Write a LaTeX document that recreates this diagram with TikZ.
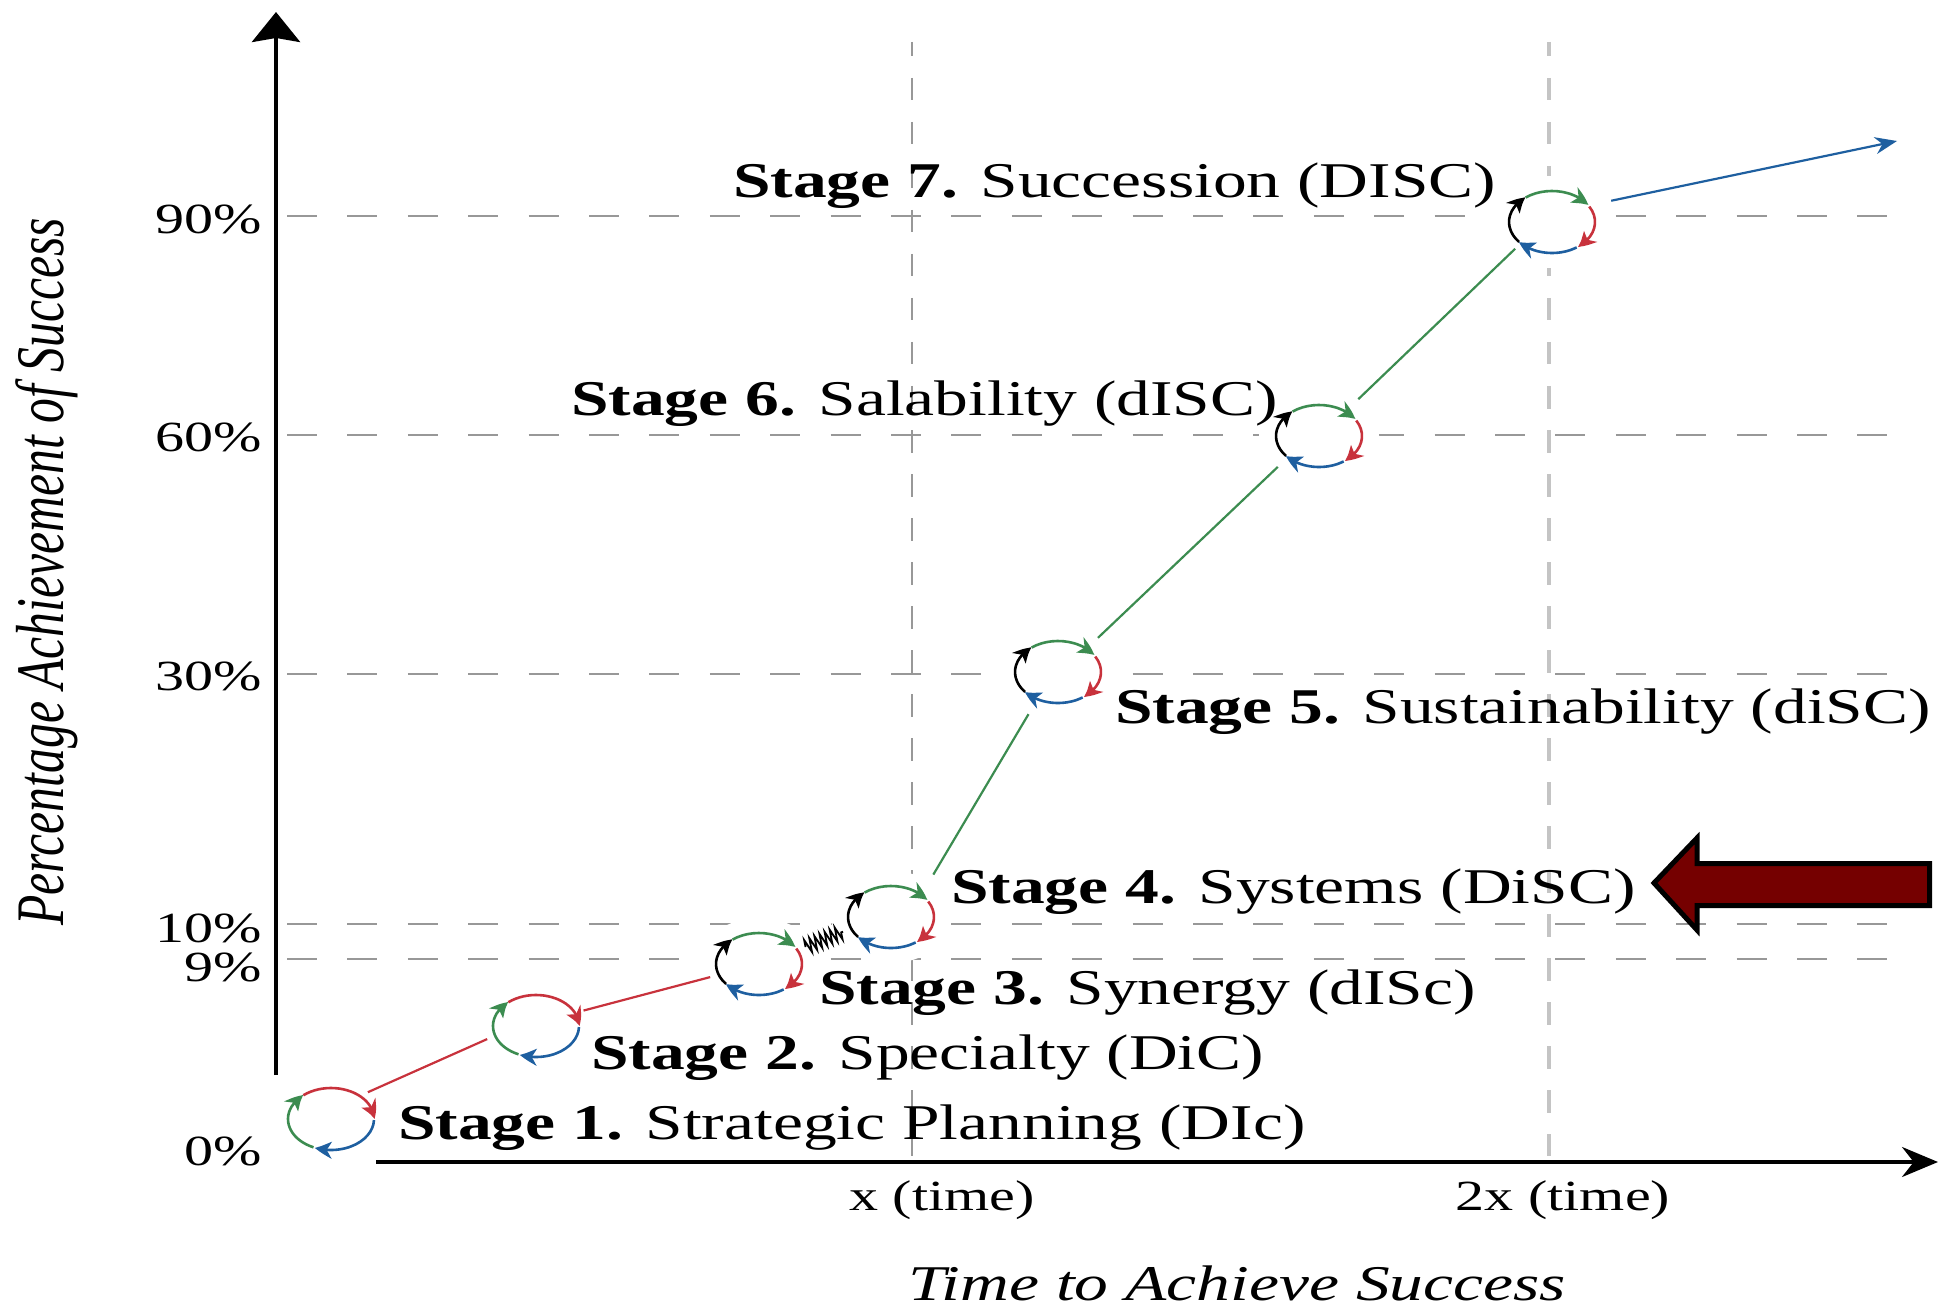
\documentclass[tikz,border=0pt]{standalone}
\usepackage{fontspec}
\setmainfont{Liberation Serif}[FakeStretch=1.35]
\newfontfamily\sidefont{Liberation Serif}[FakeStretch=0.73]
\usetikzlibrary{arrows.meta,bending,shapes.geometric,decorations.pathmorphing}
\definecolor{cycred}{HTML}{C8323C}
\definecolor{cycgreen}{HTML}{3C8C50}
\definecolor{cycblue}{HTML}{1E5FA0}
\definecolor{markred}{HTML}{750000}
\definecolor{guidegray}{HTML}{989898}
\definecolor{guidelight}{HTML}{C4C4C4}
\tikzset{
  cyc/.style={line width=2.6pt,-{Stealth[length=17pt,width=17pt,inset=5pt,bend]}},
}
\newcommand{\cycarc}[4]{\draw [cyc,#2] (#1.center) ++(#3:43pt and 31pt)
    arc [start angle=#3,end angle=#4,x radius=43pt,y radius=31pt];}
\newcommand{\threecyc}[1]{
    \cycarc{#1}{cycred}{130}{0}
    \cycarc{#1}{cycblue}{-2}{-112}
    \cycarc{#1}{cycgreen}{-114}{-230}
}
\newcommand{\fourcyc}[1]{
    \cycarc{#1}{black}{-140}{-232}
    \cycarc{#1}{cycgreen}{128}{33}
    \cycarc{#1}{cycred}{30}{-53}
    \cycarc{#1}{cycblue}{-55}{-140}
}
\begin{document}
\begin{tikzpicture}[x=1pt,y=-1pt]
\useasboundingbox (0,0) rectangle (1938,1305);
% guides
\begin{scope}[guidegray,line width=2pt,dash pattern=on 30pt off 30.4pt]
    \draw (287,216) -- (1888,216);
    \draw (287,435) -- (1888,435);
    \draw (287,674) -- (1888,674);
    \draw (287,924) -- (1888,924);
    \draw (287,959) -- (1888,959);
\end{scope}
\begin{scope}[dash pattern=on 22.5pt off 21.5pt,dash phase=8pt]
    \draw [guidegray,line width=2pt] (912,42) -- (912,1156);
    \draw [guidelight,line width=3.5pt] (1549,42) -- (1549,1156);
\end{scope}
% axes
\coordinate (O1) at (276,1075);
\coordinate (Y) at (276,12);
\coordinate (O2) at (376,1162);
\coordinate (X) at (1938,1162);
\coordinate (E) at (1897,141);
\draw [line width=4.5pt,-{Stealth[length=30pt,width=48pt,inset=4pt]}] (O1) -- (Y);
\draw [line width=3.5pt,-{Stealth[length=36pt,width=30pt]}] (O2) -- (X);
% ticks
\begin{scope}[every node/.style={anchor=east,font=\fontsize{43}{43}\selectfont}]
    \node (t90) at (265,219) {90\%};
    \node (t60) at (265,437) {60\%};
    \node (t30) at (265,676) {30\%};
    \node (t10) at (265,928) {10\%};
    \node (t9) at (265,967) {9\%};
    \node (t0) at (265,1151) {0\%};
\end{scope}
\begin{scope}[every node/.style={font=\fontsize{43}{43}\selectfont}]
    \node (x1) at (942,1200) {x (time)};
    \node (x2) at (1563,1200) {2x (time)};
\end{scope}
\node (xlabel) [anchor=base,inner sep=0pt] at (1237,1300) {\fontsize{50}{50}\selectfont\itshape Time to Achieve Success};
\node (ylabel) [rotate=90,anchor=base,inner sep=0pt] at (63,572) {\fontsize{68}{68}\sidefont\itshape Percentage Achievement of Success};
% stages
\begin{scope}[every node/.style={ellipse,draw=white,line width=16pt,fill=white,outer sep=0pt,minimum width=104pt,minimum height=76pt,inner sep=0pt}]
    \node (S1) at (331,1119) {};
    \node (S2) at (536,1026) {};
    \node (S3) at (759,964) {};
    \node (S4) at (891,917) {};
    \node (S5) at (1058,672) {};
    \node (S6) at (1319,436) {};
    \node (S7) at (1552,222) {};
\end{scope}
\threecyc{S1}
\threecyc{S2}
\fourcyc{S3}
\fourcyc{S4}
\fourcyc{S5}
\fourcyc{S6}
\fourcyc{S7}
% links
\begin{scope}[line width=2.2pt]
    \path [-] (S1.36) edge [draw=cycred] node {} (S2.195);
    \path [-] (S2.18) edge [draw=cycred] node {} (S3.195);
    \path [-] (S3.20) edge [black,line width=1.8pt,decorate,decoration={zigzag,segment length=5.5pt,amplitude=7pt}] node {} (S4.197);
    \path [-] (S4.40) edge [draw=cycgreen,shorten <=16pt,shorten >=10pt] node {} (S5.234);
    \path [-] (S5.40) edge [draw=cycgreen,shorten <=8pt,shorten >=6pt] node {} (S6.216);
    \path [-] (S6.43) edge [draw=cycgreen,shorten <=10pt] node {} (S7.216);
    \path [->,>={Stealth[length=22pt,width=17pt]}] (S7.22) edge [draw=cycblue,shorten <=14pt] node {} (E);
\end{scope}
% labels
\begin{scope}[every node/.style={anchor=base west,font=\fontsize{50}{50}\selectfont,inner sep=0pt}]
    \node (L1) at (398,1139) {\textbf{Stage 1.} Strategic Planning (DIc)};
    \node (L2) at (591,1069) {\textbf{Stage 2.} Specialty (DiC)};
    \node (L3) at (819,1004) {\textbf{Stage 3.} Synergy (dISc)};
    \node (L4) at (951,903) {\textbf{Stage 4.} Systems (DiSC)};
    \node (L5) at (1115,723) {\textbf{Stage 5.} Sustainability (diSC)};
    \node (L6) at (571,415) {\textbf{Stage 6.} Salability (dISC)};
    \node (L7) at (733,198) {\textbf{Stage 7.} Succession (DISC)};
\end{scope}
% marker
\draw [black,fill=markred,line width=5pt,miter limit=10] (1654,883) -- (1697,838) -- (1697,863.5) -- (1929.5,863.5) -- (1929.5,905.5) -- (1697,905.5) -- (1697,930) -- cycle;
\end{tikzpicture}
\end{document}
